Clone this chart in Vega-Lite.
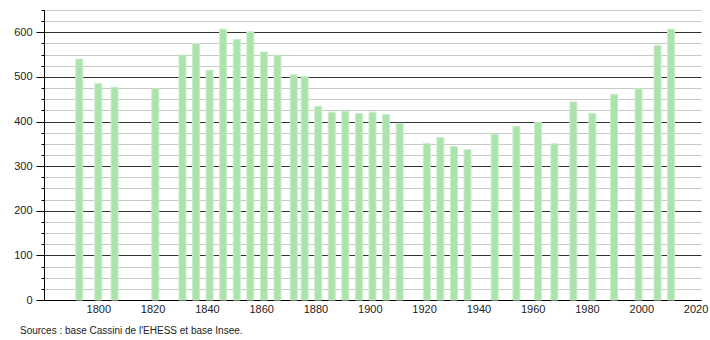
{
  "$schema": "https://vega.github.io/schema/vega-lite/v6.json",
  "width": 657,
  "height": 290,
  "autosize": {"type": "none"},
  "padding": {"left": 44, "top": 10, "right": 9, "bottom": 40},
  "background": "white",
  "config": {
    "view": {"stroke": null},
    "font": "Liberation Sans",
    "axis": {"labelFont": "Liberation Sans", "labelFontSize": 11, "labelColor": "#222"}
  },
  "title": {
    "text": "Sources : base Cassini de l'EHESS et base Insee.",
    "orient": "bottom",
    "anchor": "start",
    "frame": "group",
    "font": "Liberation Sans",
    "fontSize": 10,
    "fontWeight": "normal",
    "color": "#222",
    "offset": 12,
    "dx": -24
  },
  "data": {
    "values": [
      {"year": 1793, "pop": 540},
      {"year": 1800, "pop": 485},
      {"year": 1806, "pop": 477},
      {"year": 1821, "pop": 473},
      {"year": 1831, "pop": 549},
      {"year": 1836, "pop": 575},
      {"year": 1841, "pop": 515},
      {"year": 1846, "pop": 607},
      {"year": 1851, "pop": 584},
      {"year": 1856, "pop": 601},
      {"year": 1861, "pop": 556},
      {"year": 1866, "pop": 549},
      {"year": 1872, "pop": 505},
      {"year": 1876, "pop": 501},
      {"year": 1881, "pop": 434},
      {"year": 1886, "pop": 421},
      {"year": 1891, "pop": 423},
      {"year": 1896, "pop": 418},
      {"year": 1901, "pop": 421},
      {"year": 1906, "pop": 416},
      {"year": 1911, "pop": 396},
      {"year": 1921, "pop": 351},
      {"year": 1926, "pop": 364},
      {"year": 1931, "pop": 344},
      {"year": 1936, "pop": 337},
      {"year": 1946, "pop": 371},
      {"year": 1954, "pop": 389},
      {"year": 1962, "pop": 398},
      {"year": 1968, "pop": 350},
      {"year": 1975, "pop": 444},
      {"year": 1982, "pop": 418},
      {"year": 1990, "pop": 461},
      {"year": 1999, "pop": 473},
      {"year": 2006, "pop": 571},
      {"year": 2011, "pop": 607}
    ]
  },
  "mark": {"type": "bar", "width": 7, "color": "#ace2ac", "stroke": "#c8eec8", "strokeWidth": 1},
  "encoding": {
    "x": {
      "field": "year",
      "type": "quantitative",
      "scale": {"domain": [1780, 2022], "nice": false, "zero": false, "padding": 0},
      "axis": {
        "title": null,
        "values": [1800, 1820, 1840, 1860, 1880, 1900, 1920, 1940, 1960, 1980, 2000, 2020],
        "format": "d",
        "grid": false,
        "ticks": false,
        "labelPadding": 3,
        "domainColor": "#000",
        "domainWidth": 1,
        "labelFlush": false,
        "labelOverlap": false
      }
    },
    "y": {
      "field": "pop",
      "type": "quantitative",
      "scale": {"domain": [0, 650], "nice": false, "padding": 0},
      "axis": {
        "title": null,
        "values": [0, 25, 50, 75, 100, 125, 150, 175, 200, 225, 250, 275, 300, 325, 350, 375, 400, 425, 450, 475, 500, 525, 550, 575, 600, 625, 650],
        "labelExpr": "datum.value % 100 === 0 ? datum.label : ''",
        "grid": true,
        "gridColor": {"condition": {"test": "datum.value % 100 === 0", "value": "#333333"}, "value": "#c8c8c8"},
        "gridWidth": 1,
        "tickColor": "#000",
        "tickSize": {"condition": {"test": "datum.value % 100 === 0", "value": 8}, "value": 3},
        "labelPadding": 4,
        "domainColor": "#000",
        "labelFlush": false,
        "labelOverlap": false
      }
    }
  }
}
